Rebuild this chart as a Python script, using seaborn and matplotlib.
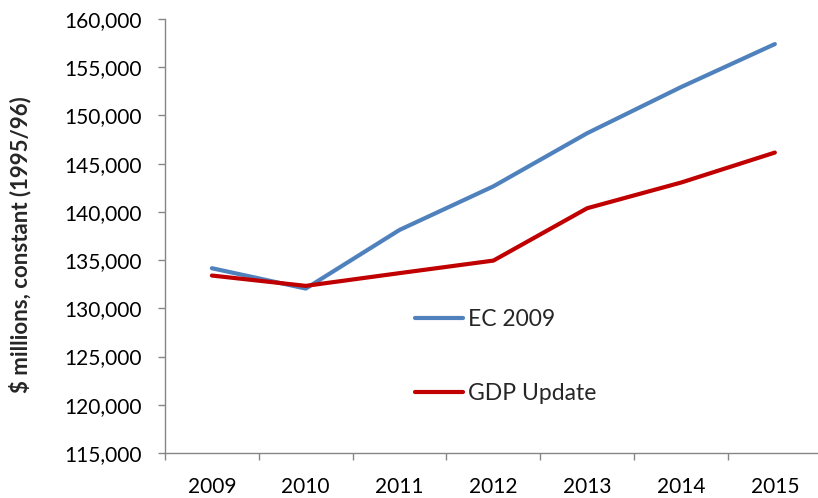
import matplotlib
matplotlib.use("Agg")
import matplotlib.pyplot as plt
import seaborn as sns
import pandas as pd
import numpy as np
from matplotlib.ticker import FuncFormatter, FixedLocator

years = [2009, 2010, 2011, 2012, 2013, 2014, 2015]
ec_2009 = [134160, 132050, 138130, 142650, 148160, 152940, 157400]
gdp_update = [133400, 132330, 133650, 134950, 140380, 143040, 146150]
series_names = ["EC 2009", "GDP Update"]
y_ticks = list(range(115000, 160001, 5000))

df = pd.DataFrame({
    "year": years * 2,
    "value": ec_2009 + gdp_update,
    "series": [series_names[0]] * len(years) + [series_names[1]] * len(years),
})

sns.set_theme(style="white")
plt.rcParams["font.family"] = ["Lato", "DejaVu Sans"]

fig = plt.figure(figsize=(8.18, 4.98), dpi=100)
ax = fig.add_axes([165 / 818, 45 / 498, (818 - 165) / 818, 434 / 498])

sns.lineplot(data=df, x="year", y="value", hue="series",
             palette={"EC 2009": "#4F81BD", "GDP Update": "#C00000"},
             linewidth=3.0, ax=ax, legend=True)

ax.set_xlim(years[0] - 0.5, years[-1] + 0.46)
ax.set_ylim(115000, 160000)
ax.set_yticks(y_ticks)
ax.yaxis.set_major_formatter(FuncFormatter(lambda v, p: f"{int(v):,}"))
ax.set_xticks(years)
ax.set_xticklabels([str(y) for y in years])
ax.xaxis.set_minor_locator(FixedLocator([y - 0.5 for y in years] + [years[-1] + 0.5]))

for s in ["top", "right"]:
    ax.spines[s].set_visible(False)
for s in ["left", "bottom"]:
    ax.spines[s].set_color("#868686")
    ax.spines[s].set_linewidth(1.0)

ax.tick_params(axis="y", which="major", left=True, length=5, width=1,
               color="#868686", labelsize=15, pad=12, labelcolor="black")
ax.tick_params(axis="x", which="major", bottom=False, length=0,
               labelsize=15, pad=17, labelcolor="black")
ax.tick_params(axis="x", which="minor", bottom=True, length=5, width=1,
               color="#868686")

ax.set_xlabel("")
ax.set_ylabel("$ millions, constant (1995/96)", fontsize=16,
              fontweight="bold")
ax.yaxis.set_label_coords(-0.204, 0.479)

leg = ax.legend(loc="upper left", bbox_to_anchor=((415 - 165) / 653, (453 - 309) / 434),
                frameon=False, fontsize=16.5, handlelength=2.1,
                handletextpad=0.2, labelspacing=2.3, borderaxespad=0,
                borderpad=0)
for line in leg.get_lines():
    line.set_linewidth(3.0)

fig.savefig("out.png", dpi=100)
